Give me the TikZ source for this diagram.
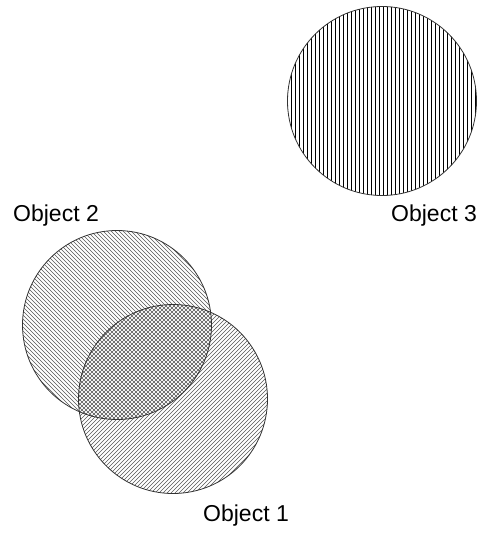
\documentclass[tikz,border=0pt]{standalone}
\usepackage{fontspec}
\setmainfont{Liberation Sans}
\usepackage{tikz}
\usetikzlibrary{backgrounds, positioning}
\definecolor{outlinegray}{RGB}{50, 50, 50}
\definecolor{hatchgray}{RGB}{85, 85, 85}
\tikzset{
  setcircle/.style={circle, draw=outlinegray, line width=0.8pt,
              minimum size=189pt, inner sep=0pt},
  vline/.style={line width=1pt, color=black},
  dline/.style={line width=0.55pt, color=hatchgray},
  setlabel/.style={font=\fontsize{23}{26}\selectfont, inner sep=0pt},
}

\begin{document}
\begin{tikzpicture}[x=1pt, y=-1pt]
  \useasboundingbox (0,0) rectangle (481,533);

  \node[setcircle] (obj3) at (382,101) {};
  \node[setcircle] (obj2) at (117,325) {};
  \node[setcircle] (obj1) at (173,399) {};

  % hatching behind the outlines
  \begin{scope}[on background layer]
    \begin{scope}
      \clip (obj3.center) circle (94.5pt);
      \foreach \x in {287.5,291.5,...,479.5}
        \draw[vline] (\x,0) -- (\x,210);
    \end{scope}
    \begin{scope}
      \clip (obj2.center) circle (94.5pt);
      \foreach \s in {-200,-196,...,200}
        \draw[dline, shift={(obj2.center)}] ({\s-100},-100) -- ++(200,200);
    \end{scope}
    \begin{scope}
      \clip (obj1.center) circle (94.5pt);
      \foreach \s in {-200,-196,...,200}
        \draw[dline, shift={(obj1.center)}] ({\s-100},100) -- ++(200,-200);
    \end{scope}
  \end{scope}

  \node[setlabel, anchor=base west] (lbl2) at (13,221) {Object 2};
  \node[setlabel, anchor=base west] (lbl3) at (391,221) {Object 3};
  \node[setlabel, anchor=base west] (lbl1) at (203,521) {Object 1};
\end{tikzpicture}
\end{document}
